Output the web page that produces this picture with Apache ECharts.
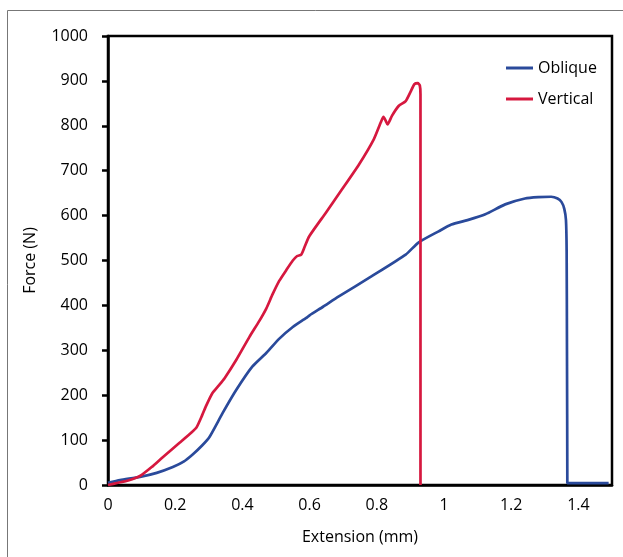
<!DOCTYPE html>
<html><head><meta charset="utf-8">
<script src="https://cdn.jsdelivr.net/npm/echarts@6/dist/echarts.min.js"></script>
<style>html,body{margin:0;padding:0;background:#fff}#c{width:623px;height:557px}</style>
</head><body><div id="c"></div>
<script>
const obliqueX = [0,0.036,0.095,0.145,0.193,0.225,0.252,0.28,0.302,0.341,0.382,0.43,0.471,0.51,0.55,0.59,0.6,0.64,0.687,0.785,0.886,0.924,0.984,1.022,1.07,1.123,1.182,1.241,1.28,1.319,1.338,1.35,1.358,1.363,1.365,1.366,1.367,1.367,1.372,1.49];
const obliqueY = [5,11,18,27,40,52,68,88,107,160,212,264,294,326,352,372,378,397,420,465,513,540,565,580,590,603,625,638,641,642,638,630,615,590,520,300,15,4,4,4];
const verticalX = [0,0.03,0.06,0.095,0.13,0.163,0.213,0.25,0.264,0.28,0.293,0.311,0.33,0.347,0.382,0.421,0.45,0.471,0.49,0.51,0.53,0.55,0.563,0.575,0.585,0.599,0.649,0.696,0.747,0.791,0.812,0.82,0.826,0.832,0.845,0.865,0.886,0.9,0.912,0.922,0.928,0.93,0.93];
const verticalY = [0,5,10,20,40,62,94,118,129,155,178,205,222,238,279,330,365,393,425,455,478,500,510,513,530,554,607,658,714,770,808,820,812,803,822,844,855,875,893,895,890,870,0];
const seriesNames = ['Oblique','Vertical'];
const xTicks = {min:0, max:1.5, interval:0.2};
const yTicks = {min:0, max:1000, interval:100};

const zip = (a,b)=>a.map((v,i)=>[v,b[i]]);
const font = 'Open Sans';
const chart = echarts.init(document.getElementById('c'));
chart.setOption({
  animation:false,
  textStyle:{fontFamily:font},
  graphic:[{type:'rect',shape:{x:7.5,y:10.5,width:700,height:700},style:{fill:'none',stroke:'#777',lineWidth:1},silent:true}],
  grid:{left:108,right:11,top:36,bottom:72,show:true,borderColor:'#000',borderWidth:2.5,containLabel:false},
  legend:{orient:'vertical',left:501,top:55,itemGap:15,itemWidth:27,itemHeight:3,icon:'rect',
    textStyle:{fontSize:16,color:'#000',fontFamily:font},data:seriesNames},
  xAxis:{type:'value',min:xTicks.min,max:xTicks.max,interval:xTicks.interval,
    name:'Extension (mm)',nameLocation:'middle',nameGap:44,nameTextStyle:{fontSize:16,color:'#000'},
    axisLine:{lineStyle:{color:'#000',width:2.5}},axisTick:{show:false},splitLine:{show:false},
    axisLabel:{fontSize:16,color:'#000',margin:12,showMaxLabel:false}},
  yAxis:{type:'value',min:yTicks.min,max:yTicks.max,interval:yTicks.interval,
    name:'Force (N)',nameLocation:'middle',nameGap:70,nameTextStyle:{fontSize:16,color:'#000'},
    axisLine:{show:true,lineStyle:{color:'#000',width:2.5}},axisTick:{show:true,length:6,lineStyle:{width:2.5,color:'#000'}},splitLine:{show:false},
    axisLabel:{fontSize:16,color:'#000',margin:20,formatter:v=>String(v)}},
  series:[
    {name:seriesNames[0],type:'line',data:zip(obliqueX,obliqueY),symbol:'none',smooth:0.2,lineStyle:{color:'#2a4a9b',width:2.7},itemStyle:{color:'#2a4a9b'}},
    {name:seriesNames[1],type:'line',data:zip(verticalX,verticalY),symbol:'none',smooth:0.2,lineStyle:{color:'#d6183f',width:2.7},itemStyle:{color:'#d6183f'}}
  ]
});
</script></body></html>
